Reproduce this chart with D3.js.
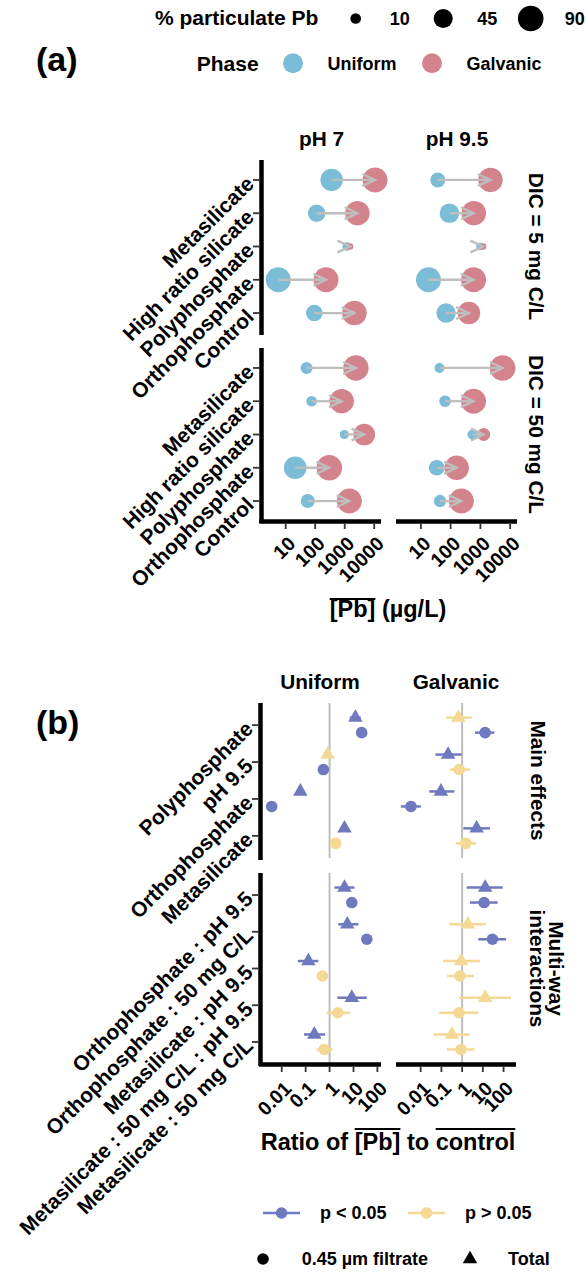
<!DOCTYPE html>
<html><head><meta charset="utf-8">
<script src="https://cdn.jsdelivr.net/npm/d3@7"></script>
<style>
body{margin:0;background:#fff}
svg{display:block}
text{font-family:"Liberation Sans",Arial,Helvetica,sans-serif;font-weight:bold;fill:#000}
</style>
</head><body>
<svg id="c" width="586" height="1273"></svg>
<script>
// ================= DATA =================
// ---- Panel (a) ----
const treatmentsA = ["Metasilicate","High ratio silicate","Polyphosphate","Orthophosphate","Control"];
const phLevels = ["pH 7","pH 9.5"];
const dicLevels = ["DIC = 5 mg C/L","DIC = 50 mg C/L"];
const phaseLevels = ["Uniform","Galvanic"];
const ticksA = [10,100,1000,10000];
const sizeLegendValues = [10,45,90];
// mean [Pb] (µg/L); each array: [pH 7 values, pH 9.5 values], in treatmentsA order
const uniformPb_DIC5  = [[360,112,1170,5.6,93],[37,91,960,18,70]];
const uniformPb_DIC50 = [[51,76,970,21,56],[42,65,540,34,44]];
const galvanicPb_DIC5  = [[10700,2700,1520,233,2130],[2180,600,1230,590,410]];
const galvanicPb_DIC50 = [[2400,790,4600,300,1440],[5600,590,1290,160,230]];
// % particulate Pb
const uniformPart_DIC5  = [[66,36,5,85,32],[25,48,3,85,47]];
const uniformPart_DIC50 = [[14,10,6,68,21],[8,13,8,28,15]];
const galvanicPart_DIC5  = [[85,81,2,85,82],[81,81,2,85,68]];
const galvanicPart_DIC50 = [[88,81,61,90,85],[90,85,17,81,85]];

// ---- Panel (b) ----
const mainEffects = ["Polyphosphate","pH 9.5","Orthophosphate","Metasilicate"];
const interactions = ["Orthophosphate : pH 9.5","Orthophosphate : 50 mg C/L","Metasilicate : pH 9.5","Metasilicate : 50 mg C/L : pH 9.5","Metasilicate : 50 mg C/L"];
const ticksB = [0.01,0.1,1,10,100];
const sigLevels = ["p < 0.05","p > 0.05"];
const shapeLevels = ["0.45 µm filtrate","Total"];
// [ratio estimate, lower, upper, significant (1) / not (0)]
const uniformTotalMain = [[12,7,20,1],[0.83,0.6,1.15,0],[0.06,0.04,0.09,1],[4.2,2.8,6.3,1]];
const uniformFiltMain  = [[22,17,28,1],[0.55,0.45,0.68,1],[0.0038,0.003,0.005,1],[1.8,1.4,2.3,0]];
const uniformTotalInt  = [[4.2,1.6,11,1],[5.5,2.3,16,1],[0.13,0.047,0.34,1],[8.5,2.1,36,1],[0.23,0.085,0.65,1]];
const uniformFiltInt   = [[8.5,5.5,13,1],[36,23,55,1],[0.5,0.35,0.7,0],[2.2,0.76,7.2,0],[0.6,0.29,1.35,0]];
const galvanicTotalMain = [[0.66,0.17,2.9,0],[0.21,0.052,0.95,1],[0.095,0.026,0.42,1],[5.0,1.15,22,1]];
const galvanicFiltMain  = [[12.9,4.2,36,1],[0.73,0.26,2.4,0],[0.0034,0.0011,0.0102,1],[1.5,0.49,4.6,0]];
const galvanicTotalInt  = [[13,1.66,91,1],[1.9,0.24,14,0],[0.89,0.12,7.2,0],[13,0.72,229,0],[0.32,0.041,2.24,0]];
const galvanicFiltInt   = [[11.5,2.4,52,1],[29,6,132,1],[0.79,0.19,3.7,0],[0.71,0.079,6.0,0],[0.89,0.18,3.9,0]];

// ================= STYLE / LAYOUT =================
const colUniform = "#7BBCD6", colGalv = "#D3838C", greyCol = "#BEBEBE";
const colSig = "#6F79BF", colNS = "#F4D894";
const tickFont = 19.5, yTickFont = 21, stripFont = 20.8, titleFont = 23.5, legTitleFont = 21, legFont = 18;
const svg = d3.select("#c");

function txt(g, x, y, s, size, anchor){
  return g.append("text").attr("x",x).attr("y",y).attr("font-size",size)
    .attr("text-anchor",anchor||"start").text(s);
}
function rotLabel(g, x, y, s, angle, anchor, dy, size){
  return g.append("text").attr("transform",`translate(${x},${y}) rotate(${angle})`)
    .attr("text-anchor",anchor).attr("dy",dy).attr("font-size",size).text(s);
}
function overlineText(g, cx, y, parts, size, offset){
  const t = g.append("text").attr("x",cx).attr("y",y).attr("font-size",size).attr("text-anchor","middle");
  parts.forEach(p => t.append("tspan").text(p.t));
  let idx = 0;
  const node = t.node();
  parts.forEach(p => {
    if (p.over){
      const a = node.getStartPositionOfChar(idx).x;
      const b = node.getEndPositionOfChar(idx + p.t.length - 1).x;
      g.append("line").attr("x1",a).attr("x2",b).attr("y1",y-offset).attr("y2",y-offset)
        .attr("stroke","#000").attr("stroke-width",1.8);
    }
    idx += p.t.length;
  });
}
function triPath(cx, cy, w){
  const h = w*Math.sqrt(3)/2;
  return `M${cx},${cy-h*2/3}L${cx+w/2},${cy+h/3}L${cx-w/2},${cy+h/3}Z`;
}

// ================= PANEL (a) =================
const gA = svg.append("g");
txt(gA, 36, 71, "(a)", 34);

const aCols = [[262,381],[397,517]];
const aRows = [[160,333],[348,521]];
const xA = aCols.map(r => d3.scaleLog().domain([Math.pow(10,0.197), Math.pow(10,4.23)]).range(r));
const yA = aRows.map(r => d3.scalePoint().domain(treatmentsA).range(r).padding(0.6));
const sizeA = d3.scaleSqrt().domain([0,100]).range([1.6,13.4]);

const uniPb = [uniformPb_DIC5, uniformPb_DIC50];
const galPb = [galvanicPb_DIC5, galvanicPb_DIC50];
const uniPart = [uniformPart_DIC5, uniformPart_DIC50];
const galPart = [galvanicPart_DIC5, galvanicPart_DIC50];

function arrow(g, x1, x2, y){
  g.append("line").attr("x1",x1).attr("x2",x2).attr("y1",y).attr("y2",y)
    .attr("stroke",greyCol).attr("stroke-width",2.3);
  const L = 14, ang = 25*Math.PI/180, dir = (x2 >= x1) ? 1 : -1;
  const bx = x2 - dir*L*Math.cos(ang), dyy = L*Math.sin(ang);
  g.append("path").attr("d",`M${bx},${y-dyy}L${x2},${y}L${bx},${y+dyy}`)
    .attr("fill","none").attr("stroke",greyCol).attr("stroke-width",2.3);
}

for (let d = 0; d < 2; d++){
  for (let p = 0; p < 2; p++){
    const g = gA.append("g");
    const xs = xA[p], ys = yA[d];
    treatmentsA.forEach((t,i) => {
      g.append("circle").attr("cx",xs(uniPb[d][p][i])).attr("cy",ys(t))
        .attr("r",sizeA(uniPart[d][p][i])).attr("fill",colUniform);
    });
    treatmentsA.forEach((t,i) => {
      g.append("circle").attr("cx",xs(galPb[d][p][i])).attr("cy",ys(t))
        .attr("r",sizeA(galPart[d][p][i])).attr("fill",colGalv);
    });
    treatmentsA.forEach((t,i) => {
      arrow(g, xs(uniPb[d][p][i]), xs(galPb[d][p][i]), ys(t));
    });
  }
  const x0 = aCols[0][0], ys = yA[d];
  gA.append("line").attr("x1",x0-0.5).attr("x2",x0-0.5).attr("y1",aRows[d][0]).attr("y2",aRows[d][1]+2)
    .attr("stroke","#000").attr("stroke-width",4.5);
  treatmentsA.forEach(t => {
    gA.append("line").attr("x1",x0-9).attr("x2",x0-2.5).attr("y1",ys(t)).attr("y2",ys(t))
      .attr("stroke","#333").attr("stroke-width",1.8);
    rotLabel(gA, x0-12, ys(t), t, -45, "end", "0.35em", yTickFont);
  });
  const cy = (aRows[d][0]+aRows[d][1])/2;
  rotLabel(gA, 536, cy, dicLevels[d], 90, "middle", "0.35em", stripFont);
}
for (let p = 0; p < 2; p++){
  const yb = aRows[1][1], xs = xA[p];
  gA.append("line").attr("x1",aCols[p][0]-(p===0?2.75:1)).attr("x2",aCols[p][1]).attr("y1",yb+0.5).attr("y2",yb+0.5)
    .attr("stroke","#000").attr("stroke-width",4.5);
  ticksA.forEach(v => {
    gA.append("line").attr("x1",xs(v)).attr("x2",xs(v)).attr("y1",yb+2.5).attr("y2",yb+8)
      .attr("stroke","#333").attr("stroke-width",1.8);
    rotLabel(gA, xs(v)+1, yb+14, String(v), -45, "end", "0.72em", tickFont);
  });
  txt(gA, (aCols[p][0]+aCols[p][1])/2, 146, phLevels[p], stripFont, "middle");
}
overlineText(gA, 388, 617, [{t:"[Pb]",over:true},{t:" (µg/L)"}], titleFont, 18);

// legends (top)
const gL = svg.append("g");
txt(gL, 155, 25, "% particulate Pb", legTitleFont);
sizeLegendValues.forEach((v,i) => {
  const kx = 355.7 + i*87.5;
  gL.append("circle").attr("cx",kx).attr("cy",18.5).attr("r",sizeA(v)).attr("fill","#000");
  txt(gL, kx+34, 25, String(v), legFont);
});
txt(gL, 196.7, 70.5, "Phase", legTitleFont);
[colUniform, colGalv].forEach((c,i) => {
  const kx = 293 + i*139;
  gL.append("circle").attr("cx",kx).attr("cy",63.3).attr("r",10).attr("fill",c);
  txt(gL, kx+34.5, 69.8, phaseLevels[i], legFont);
});

// ================= PANEL (b) =================
const gB = svg.append("g");
txt(gB, 36, 734, "(b)", 34);
const bCols = [[259,381],[396,516]];
const bRows = [[703,858],[873,1064]];
const xB = [
  d3.scaleLog().domain([Math.pow(10,-2.95), Math.pow(10,2.15)]).range(bCols[0]),
  d3.scaleLog().domain([Math.pow(10,-3.19), Math.pow(10,2.60)]).range(bCols[1])
];
const rowLevels = [mainEffects, interactions];
const yB = bRows.map((r,k) => d3.scalePoint().domain(rowLevels[k]).range(r).padding(0.6));
const totals = [[uniformTotalMain, uniformTotalInt],[galvanicTotalMain, galvanicTotalInt]];
const filts  = [[uniformFiltMain, uniformFiltInt],[galvanicFiltMain, galvanicFiltInt]];
const dodge = 7.5;
const sigCol = s => s ? colSig : colNS;

for (let c = 0; c < 2; c++){
  for (let r = 0; r < 2; r++){
    const g = gB.append("g"), xs = xB[c], ys = yB[r];
    g.append("line").attr("x1",xs(1)).attr("x2",xs(1)).attr("y1",bRows[r][0]).attr("y2",bRows[r][1])
      .attr("stroke",greyCol).attr("stroke-width",2);
    rowLevels[r].forEach((lab,i) => {
      const T = totals[c][r][i], Fv = filts[c][r][i];
      const yT = ys(lab) - dodge, yF = ys(lab) + dodge;
      g.append("line").attr("x1",xs(T[1])).attr("x2",xs(T[2])).attr("y1",yT).attr("y2",yT)
        .attr("stroke",sigCol(T[3])).attr("stroke-width",2.5);
      g.append("path").attr("d",triPath(xs(T[0]), yT, 14.5)).attr("fill",sigCol(T[3]));
      g.append("line").attr("x1",xs(Fv[1])).attr("x2",xs(Fv[2])).attr("y1",yF).attr("y2",yF)
        .attr("stroke",sigCol(Fv[3])).attr("stroke-width",2.5);
      g.append("circle").attr("cx",xs(Fv[0])).attr("cy",yF).attr("r",5.8).attr("fill",sigCol(Fv[3]));
    });
  }
}
for (let r = 0; r < 2; r++){
  const x0 = bCols[0][0] + 2, ys = yB[r];
  gB.append("line").attr("x1",x0-0.5).attr("x2",x0-0.5).attr("y1",bRows[r][0]).attr("y2",bRows[r][1]+2)
    .attr("stroke","#000").attr("stroke-width",4.5);
  rowLevels[r].forEach(lab => {
    gB.append("line").attr("x1",x0-9).attr("x2",x0-2.5).attr("y1",ys(lab)).attr("y2",ys(lab))
      .attr("stroke","#333").attr("stroke-width",1.8);
    rotLabel(gB, x0-12, ys(lab), lab, -45, "end", "0.35em", yTickFont);
  });
}
for (let c = 0; c < 2; c++){
  const yb = bRows[1][1], xs = xB[c];
  gB.append("line").attr("x1",bCols[c][0]).attr("x2",bCols[c][1]).attr("y1",yb+0.5).attr("y2",yb+0.5)
    .attr("stroke","#000").attr("stroke-width",4.5);
  ticksB.forEach(v => {
    gB.append("line").attr("x1",xs(v)).attr("x2",xs(v)).attr("y1",yb+2.5).attr("y2",yb+8)
      .attr("stroke","#333").attr("stroke-width",1.8);
    rotLabel(gB, xs(v)+1, yb+16, String(v), -45, "end", "0.72em", tickFont);
  });
  txt(gB, (bCols[c][0]+bCols[c][1])/2, 689, phaseLevels[c], stripFont, "middle");
}
rotLabel(gB, 538, (bRows[0][0]+bRows[0][1])/2, "Main effects", 90, "middle", "0.35em", stripFont);
{
  const cy = (bRows[1][0]+bRows[1][1])/2;
  const t = gB.append("text").attr("transform",`translate(547,${cy}) rotate(90)`)
    .attr("text-anchor","middle").attr("font-size",stripFont);
  t.append("tspan").attr("x",0).attr("dy","-0.1em").text("Multi-way");
  t.append("tspan").attr("x",0).attr("dy","0.9em").text("interactions");
}
overlineText(gB, 388, 1150, [{t:"Ratio of "},{t:"[Pb]",over:true},{t:" to "},{t:"control",over:true}], titleFont, 21);

// legends (bottom)
const gL2 = svg.append("g");
[1,0].forEach((s,i) => {
  const kx = 281.5 + i*145;
  gL2.append("line").attr("x1",kx-18.5).attr("x2",kx+18.5).attr("y1",1213).attr("y2",1213)
    .attr("stroke",sigCol(s)).attr("stroke-width",2.5);
  gL2.append("circle").attr("cx",kx).attr("cy",1213).attr("r",5.8).attr("fill",sigCol(s));
  txt(gL2, kx+38.5, 1219.3, sigLevels[i], legFont);
});
gL2.append("circle").attr("cx",263).attr("cy",1259).attr("r",5.8).attr("fill","#000");
txt(gL2, 301.7, 1265.3, shapeLevels[0], legFont);
gL2.append("path").attr("d",triPath(470,1259,14.5)).attr("fill","#000");
txt(gL2, 508, 1265.3, shapeLevels[1], legFont);
</script>
</body></html>
